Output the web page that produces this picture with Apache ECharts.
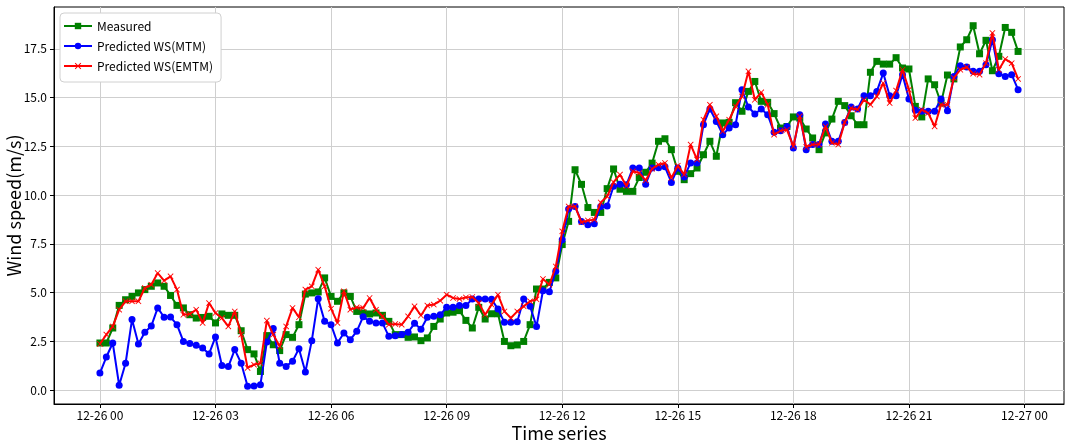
<!DOCTYPE html>
<html><head><meta charset="utf-8">
<script src="https://cdn.jsdelivr.net/npm/echarts@6/dist/echarts.min.js"></script>
<style>html,body{margin:0;padding:0;background:#fff}#c{width:1067px;height:445px}</style>
</head><body><div id="c"></div>
<script>
// Time axis: 10-minute samples starting 12-26 00:00 (hours since start)
const sampleCount = 144;
const stepHours = 10 / 60;
const xTickHours = [0, 3, 6, 9, 12, 15, 18, 21, 24];
const xTickLabels = ['12-26 00','12-26 03','12-26 06','12-26 09','12-26 12','12-26 15','12-26 18','12-26 21','12-27 00'];
const yTickValues = [0, 2.5, 5, 7.5, 10, 12.5, 15, 17.5];

const measured = [
2.41,2.41,3.18,4.34,4.63,4.80,4.98,5.15,5.32,5.49,5.32,4.85,4.34,4.21,3.86,3.69,3.72,3.78,3.44,3.90,
3.83,3.83,3.04,2.07,1.85,0.95,2.79,2.32,2.02,2.84,2.70,3.35,4.92,4.98,5.03,5.75,4.80,4.55,4.98,4.80,
4.03,3.95,3.90,3.95,3.83,3.52,2.84,2.84,2.70,2.72,2.53,2.67,3.26,3.64,3.95,3.99,4.07,3.57,3.18,4.24,
3.64,3.91,3.91,2.49,2.27,2.31,2.49,3.35,5.18,5.18,5.52,5.75,7.46,8.65,11.30,10.55,9.36,9.11,9.11,10.33,
11.34,10.30,10.19,10.19,10.90,11.17,11.64,12.76,12.89,12.33,11.22,10.79,11.10,11.39,12.07,12.76,11.99,13.70,13.73,14.74,
14.30,15.32,15.83,14.81,14.76,14.18,13.44,13.52,14.01,13.95,13.39,12.93,12.33,13.19,13.90,14.81,14.59,14.07,13.61,13.61,
16.30,16.86,16.72,16.72,17.05,16.52,16.47,14.55,14.01,15.96,15.66,14.72,16.16,15.96,17.60,17.97,18.69,17.25,17.94,16.38,
17.12,18.60,18.35,17.37
];
const predictedMTM = [
0.87,1.69,2.41,0.24,1.37,3.62,2.36,2.96,3.28,4.21,3.73,3.74,3.35,2.49,2.39,2.29,2.15,1.85,2.72,1.26,
1.20,2.07,1.37,0.19,0.20,0.27,2.46,3.15,1.37,1.21,1.47,2.12,0.92,2.53,4.68,3.52,3.35,2.41,2.92,2.58,
3.01,3.76,3.52,3.44,3.44,2.75,2.78,2.84,2.96,3.42,3.12,3.73,3.78,3.86,4.24,4.24,4.33,4.33,4.67,4.67,
4.67,4.65,4.15,3.47,3.47,3.50,4.67,4.29,3.26,5.09,5.04,6.09,7.71,9.29,9.42,8.65,8.48,8.53,9.42,9.44,
10.45,10.55,10.53,11.39,11.39,10.56,11.39,11.40,11.45,10.65,11.39,10.93,11.65,11.65,13.61,14.42,13.78,13.10,13.44,13.61,
15.41,14.52,14.16,14.42,14.12,13.22,13.30,13.52,12.42,14.12,12.33,12.59,12.59,13.65,12.76,12.76,13.73,14.52,14.42,15.10,
15.10,15.32,16.26,15.10,15.10,16.18,14.93,14.35,14.30,14.30,14.30,14.93,14.33,16.09,16.64,16.57,16.35,16.35,16.69,17.97,
16.23,16.09,16.18,15.41
];
const predictedEMTM = [
2.36,2.84,3.26,4.12,4.55,4.55,4.55,5.23,5.40,6.00,5.61,5.83,5.15,3.86,3.90,4.12,3.44,4.46,3.95,3.69,
3.26,4.03,2.84,1.13,1.30,1.37,3.56,2.84,2.24,3.26,4.21,3.73,5.15,5.32,6.17,5.32,4.17,3.44,5.06,4.12,
4.24,4.21,4.72,4.12,3.78,3.35,3.39,3.35,3.78,4.29,3.82,4.33,4.38,4.58,4.89,4.72,4.67,4.75,4.77,4.46,
3.86,4.38,4.89,4.03,3.69,4.03,4.29,4.55,4.65,5.70,5.40,6.34,8.14,9.42,9.42,8.60,8.70,8.74,9.62,9.93,
10.66,11.05,10.47,11.22,11.13,10.75,11.35,11.56,11.65,10.88,11.51,11.05,12.59,11.82,13.87,14.64,14.04,13.27,13.87,14.55,
15.06,16.35,14.89,15.27,14.64,13.10,13.30,13.35,12.50,14.04,12.47,12.59,12.60,13.52,12.68,12.59,13.73,14.47,14.38,14.89,
14.64,15.06,15.75,14.72,15.36,16.43,15.41,13.95,14.38,14.21,13.52,14.64,14.64,16.01,16.43,16.57,16.23,16.18,16.77,18.32,
16.43,16.98,16.77,15.96
];
const seriesNames = ['Measured', 'Predicted WS(MTM)', 'Predicted WS(EMTM)'];

const hours = [];
for (let i = 0; i < sampleCount; i++) hours.push(i * stepHours);
const pair = arr => arr.map((v, i) => [hours[i], v]);

const FONT = '"Noto Sans CJK KR", "Noto Sans", sans-serif';
const xSpan = hours[hours.length - 1];
const xPad = xSpan * 0.05;
const crossPath = 'path://M0,1L1,0L5,4L9,0L10,1L6,5L10,9L9,10L5,6L1,10L0,9L4,5Z';

const chart = echarts.init(document.getElementById('c'), null, {renderer: 'canvas'});
chart.setOption({
  animation: false,
  backgroundColor: '#fff',
  textStyle: {fontFamily: FONT},
  grid: {left: 54, right: 3, top: 7, bottom: 41, show: true, borderColor: '#000', borderWidth: 1,
         containLabel: false, outerBoundsMode: 'none'},
  legend: {
    orient: 'vertical', left: 60, top: 13,
    backgroundColor: '#fff', borderColor: '#d0d0d0', borderWidth: 1, borderRadius: 4,
    padding: [6, 8, 9, 3], itemGap: 6, itemWidth: 28, itemHeight: 8,
    textStyle: {fontFamily: FONT, fontSize: 12, color: '#000', lineHeight: 14},
    data: seriesNames
  },
  xAxis: {
    type: 'value', min: -xPad, max: xSpan + xPad,
    name: 'Time series', nameLocation: 'middle', nameGap: 19, nameMoveOverlap: false,
    nameTextStyle: {fontFamily: FONT, fontSize: 18, color: '#000', lineHeight: 20},
    axisLine: {show: true, onZero: false, lineStyle: {color: '#000'}},
    axisTick: {show: true, inside: false, length: 4, lineStyle: {color: '#000'}, customValues: xTickHours},
    axisLabel: {show: true, customValues: xTickHours, margin: 5, fontFamily: FONT, fontSize: 12, color: '#000',
      formatter: v => { const k = xTickHours.indexOf(Math.round(v)); return k >= 0 ? xTickLabels[k] : ''; }},
    splitLine: {show: true, lineStyle: {color: '#cfcfcf', width: 1}}
  },
  yAxis: {
    type: 'value', min: -0.72, max: 19.65,
    name: 'Wind speed(m/s)', nameLocation: 'middle', nameGap: 30, nameMoveOverlap: false,
    nameTextStyle: {fontFamily: FONT, fontSize: 18, color: '#000', lineHeight: 20},
    axisLine: {show: true, onZero: false, lineStyle: {color: '#000'}},
    axisTick: {show: true, inside: false, length: 4, lineStyle: {color: '#000'}, customValues: yTickValues},
    axisLabel: {show: true, customValues: yTickValues, margin: 7, fontFamily: FONT, fontSize: 12, color: '#000',
      formatter: v => v.toFixed(1)},
    splitLine: {show: true, lineStyle: {color: '#cfcfcf', width: 1}}
  },
  series: [
    {name: seriesNames[0], type: 'line', data: pair(measured), symbol: 'rect', symbolSize: 7,
     lineStyle: {color: '#008000', width: 2}, itemStyle: {color: '#008000'}, z: 2},
    {name: seriesNames[1], type: 'line', data: pair(predictedMTM), symbol: 'circle', symbolSize: 7,
     lineStyle: {color: '#0000ff', width: 2}, itemStyle: {color: '#0000ff'}, z: 3},
    {name: seriesNames[2], type: 'line', data: pair(predictedEMTM), symbol: crossPath, symbolSize: 6,
     lineStyle: {color: '#ff0000', width: 2}, itemStyle: {color: '#ff0000'}, z: 4}
  ]
});
</script>
</body></html>
